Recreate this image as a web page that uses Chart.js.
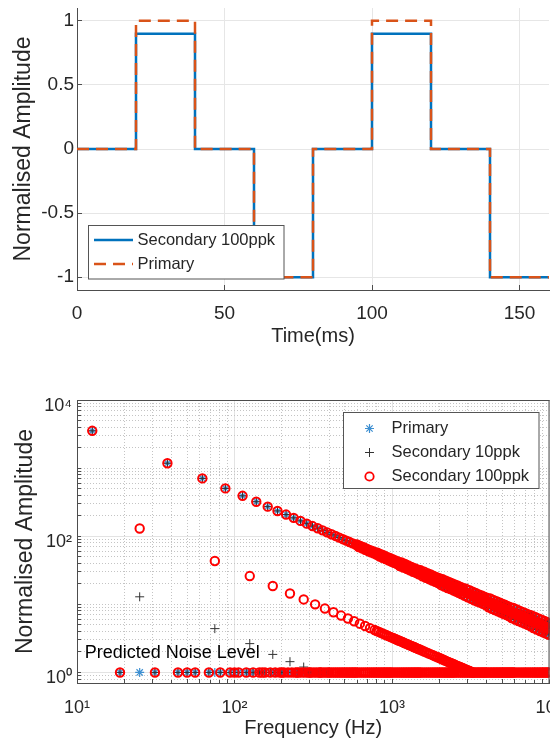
<!DOCTYPE html>
<html><head><meta charset="utf-8">
<script src="https://cdn.jsdelivr.net/npm/chart.js@4.4.1/dist/chart.umd.min.js"></script>
<style>
html,body{margin:0;padding:0;background:#fff;overflow:hidden;width:550px;height:754px;position:relative;}
#w1{position:absolute;left:0;top:0;width:600px;height:370px;}
#w2{position:absolute;left:0;top:380px;width:600px;height:374px;}
</style></head><body>
<div id="w1"><canvas id="c1"></canvas></div>
<div id="w2"><canvas id="c2"></canvas></div>
<script>
const FONT = "'Liberation Sans', Arial, Helvetica, sans-serif";
const INK = '#262626';
const AXIS = '#4d4d4d';

// ---------- Top panel: time signal ----------
const timeMs = [0, 20, 40, 60, 80, 100, 120, 140, 160];
const primaryWave = [0, 1, 0, -1, 0, 1, 0, -1, -1];
const secondaryWave = [0, 0.9, 0, -1, 0, 0.9, 0, -1, -1];
const timeTicks = [0, 50, 100, 150];
const ampTicks = [-1, -0.5, 0, 0.5, 1];

// ---------- Bottom panel: spectrum ----------
// main harmonic line (edges of the band at high frequency)
const peakHz = [12.5,37.5,62.5,87.5,112.5,137.5,162.5,187.5,212.5,237.5,
  262.5,287.5,312.5,337.5,362.5,387.5,412.5,437.5,462.5,487.5,
  512.5,537.5,562.5,587.5,
  600,615,630,645,660,675,690,705,720,735,750,765,780,795,
  810,830,850,870,890,910,930,950,970,990,1010,1030,1050,1070,1090,
  1120,1150,1180,1210,1240,1270,1300,1330,1360,1390,1420,1450,1480,
  1520,1560,1600,1640,1680,1720,1760,1800,1840,1880,1920,1960,2000,
  2050,2100,2150,2200,2250,2300,2350,2400,2450,2500,2550,2600,2650,2700,2750,2800,
  2875,2950,3025,3100,3175,3250,3325,3400,3475,3550,3625,3700,3775,3850,3925,4000,
  4100,4200,4300,4400,4500,4600,4700,4800,4900,5000,5100,5200,5300,5400,5500,5600,
  5750,5900,6050,6200,6350,6500,6650,6800,6950,7100,7250,7400,7550,
  7700,7900,8100,8300,8500,8700,8900,9100,9300,9500,9700,9900,10000];
const peakAmp = [3530,1180,706,504,392,321,272,235,208,186,
  168,153,141,131,122,114,107,101,95.4,90.5,
  86.1,82.1,78.4,75.1,
  75.7,69.5,72.1,66.3,68.9,63.4,65.8,60.7,63.1,58.2,60.6,56.0,58.3,53.8,
  57.2,50.5,54.5,48.2,52.1,46.1,49.8,44.1,47.8,42.3,45.9,40.7,44.1,39.2,42.5,
  36.6,41.1,34.8,39.1,33.1,37.1,31.5,35.5,30.1,33.9,28.9,32.5,27.7,
  31.6,25.8,30.1,24.5,28.7,23.4,27.4,22.3,26.2,21.4,25.1,20.5,24.1,
  19.1,23.3,18.2,22.3,17.4,21.3,16.7,20.4,16.0,19.6,15.4,18.9,14.8,18.1,14.2,17.5,
  13.4,16.9,12.7,16.1,12.1,15.3,11.5,14.7,11.0,14.0,10.6,13.5,10.2,12.9,9.78,12.5,
  9.04,12.2,8.62,11.6,8.24,11.1,7.89,10.7,7.57,10.2,7.27,9.85,7.0,9.48,6.74,9.14,
  6.29,8.83,5.98,8.40,5.70,8.01,5.44,7.66,5.21,7.33,4.99,7.03,4.79,
  6.88,4.47,6.54,4.26,6.23,4.06,5.95,3.88,5.69,3.71,5.46,3.57,5.29];
// centre of the dense harmonic band
const peakMidHz = [607.5,622.5,637.5,652.5,667.5,682.5,697.5,712.5,727.5,742.5,757.5,772.5,787.5,802.5,
  820,840,860,880,900,920,940,960,980,1000,1020,1040,1060,1080,1105,
  1135,1165,1195,1225,1255,1285,1315,1345,1375,1405,1435,1465,1500,
  1540,1580,1620,1660,1700,1740,1780,1820,1860,1900,1940,1980,2025,
  2075,2125,2175,2225,2275,2325,2375,2425,2475,2525,2575,2625,2675,2725,2775,2837.5,
  2912.5,2987.5,3062.5,3137.5,3212.5,3287.5,3362.5,3437.5,3512.5,3587.5,3662.5,3737.5,3812.5,3887.5,3962.5,4050,
  4150,4250,4350,4450,4550,4650,4750,4850,4950,5050,5150,5250,5350,5450,5550,5675,
  5825,5975,6125,6275,6425,6575,6725,6875,7025,7175,7325,7475,7625,
  7800,8000,8200,8400,8600,8800,9000,9200,9400,9600,9800,9950];
const peakMidAmp = [72.6,70.9,69.2,67.6,66.1,64.7,63.3,61.9,60.7,59.4,58.3,57.1,56.0,55.0,
  53.8,52.5,51.3,50.1,49.0,48.0,46.9,46.0,45.0,44.1,43.3,42.4,41.6,40.9,39.9,
  38.9,37.9,36.9,36.0,35.2,34.3,33.6,32.8,32.1,31.4,30.7,30.1,29.4,
  28.7,27.9,27.2,26.6,26.0,25.4,24.8,24.2,23.7,23.2,22.7,22.3,21.8,
  21.3,20.8,20.3,19.8,19.4,19.0,18.6,18.2,17.8,17.5,17.1,16.8,16.5,16.2,15.9,15.6,
  15.2,14.8,14.4,14.1,13.7,13.4,13.1,12.8,12.6,12.3,12.0,11.8,11.6,11.4,11.1,10.9,
  10.6,10.4,10.1,9.92,9.70,9.49,9.29,9.10,8.91,8.74,8.57,8.40,8.25,8.10,7.95,7.78,
  7.58,7.38,7.20,7.03,6.87,6.71,6.56,6.42,6.28,6.15,6.02,5.90,5.79,
  5.66,5.52,5.38,5.25,5.13,5.01,4.90,4.80,4.69,4.60,4.50,4.43];
const sideHz = [25,75,125,175,225,275,325,375,425,475,525,575,625,675,725,775,
  800,825,850,875,900,925,950,975,1000,1025,1050,1075,1100,1125,1150,1175,1200,
  1225,1250,1275,1300,1325,1350,1375,1400,1425,1450,1475,1500,
  1550,1600,1650,1700,1750,1800,1850,1900,1950,2000,2050,2100,2150,2200,2250,2300,
  2350,2400,2450,2500,2550,2600,2650,2700,2750,2800,2850,2900,2950,3000,3050,3100,
  3150,3200,3250];
const side100Amp = [130,43.3,26.0,18.6,14.4,11.8,10.0,8.67,7.65,6.84,6.19,5.65,5.20,4.81,4.48,4.19,
  4.06,3.94,3.82,3.71,3.61,3.51,3.42,3.33,3.25,3.17,3.10,3.02,2.95,2.89,2.83,2.77,2.71,
  2.65,2.60,2.55,2.50,2.45,2.41,2.36,2.32,2.28,2.24,2.20,2.17,
  2.10,2.03,1.97,1.91,1.86,1.81,1.76,1.71,1.67,1.63,1.59,1.55,1.51,1.48,1.44,1.41,
  1.38,1.35,1.33,1.30,1.27,1.25,1.23,1.20,1.18,1.16,1.14,1.12,1.10,1.08,1.07,1.05,
  1.03,1.02,1.00];
const side10Hz = [25,75,125,175,225,275];
const side10Amp = [12.9,4.4,2.65,1.84,1.44,1.2];
const NOISE_LEVEL = 1;
const floorHz = [18.75,31.25,43.75,50,56.25,68.75,81.25,93.75,100,106.25,118.75,131.25,
  143.75,150,156.25,168.75,181.25,193.75,200,206.25,218.75,231.25,243.75,250,256.25,
  268.75,281.25,293.75,300,306.25,318.75,331.25,343.75,350,356.25,368.75,381.25,393.75,400];
const floorDenseHz = [412.5,425,437.5,450,462.5,475,487.5,500,512.5,525,537.5,550,562.5,575,587.5,600,
  620,640,660,680,700,720,740,760,780,800,820,840,860,880,900,920,940,960,980,1000,
  1030,1060,1090,1120,1150,1180,1210,1240,1270,1300,1330,1360,1390,1420,1450,1480,1510,
  1550,1600,1650,1700,1750,1800,1850,1900,1950,2000,2050,2100,2150,2200,2250,2300,2350,2400,2450,2500,
  2575,2650,2725,2800,2875,2950,3025,3100,3175,3250,3325,3400,3475,3550,3625,3700,3775,3850,3925,4000,
  4100,4200,4300,4400,4500,4600,4700,4800,4900,5000,5100,5200,5300,5400,5500,5600,5700,5800,5900,6000,
  6200,6400,6600,6800,7000,7200,7400,7600,7800,8000,8200,8400,8600,8800,9000,9200,9400,9600,9800,10000];
const primaryNoiseHz = [25,75,125,175,225,275,325,375];
const sec10NoiseHz = [325,375];
const freqMajor = [10, 100, 1000, 10000];
const freqLabels = ['10\u00B9', '10\u00B2', '10\u00B3', '10\u2074'];
const ampMajor = [1, 100, 10000];
const ampLabels = ['10\u2070', '10\u00B2', '10\u2074'];
const ampBelowOne = [0.8, 0.9];
const minorMult = [1, 2, 3, 4, 5, 6, 7, 8, 9];
const noiseLabelAt = [11.2, 1.95];

Chart.defaults.font.family = FONT;
Chart.defaults.color = INK;

function xy(xs, ys) { return xs.map((x, i) => ({x: x, y: ys[i]})); }
function atNoise(xs) { return xs.map(x => ({x: x, y: NOISE_LEVEL})); }
function zeroPad(s) { s.paddingLeft = 0; s.paddingRight = 0; s.paddingTop = 0; s.paddingBottom = 0; }

// ---------- Legend plugin for top panel ----------
const legendTop = {
  id: 'legendTop',
  afterDraw(chart) {
    const ctx = chart.ctx;
    ctx.save();
    ctx.fillStyle = '#fff';
    ctx.fillRect(88.5, 225.5, 195.5, 53.5);
    ctx.strokeStyle = '#555';
    ctx.lineWidth = 1;
    ctx.strokeRect(88.5, 225.5, 195.5, 53.5);
    ctx.lineWidth = 2.5;
    ctx.strokeStyle = '#0072BD';
    ctx.beginPath(); ctx.moveTo(94, 240); ctx.lineTo(133, 240); ctx.stroke();
    ctx.strokeStyle = '#D95319';
    ctx.setLineDash([12, 7]);
    ctx.beginPath(); ctx.moveTo(94, 264); ctx.lineTo(133, 264); ctx.stroke();
    ctx.setLineDash([]);
    ctx.fillStyle = INK;
    ctx.font = '16.5px ' + FONT;
    ctx.textBaseline = 'middle';
    ctx.textAlign = 'left';
    ctx.fillText('Secondary 100ppk', 137.5, 240);
    ctx.fillText('Primary', 137.5, 264);
    ctx.restore();
  }
};

new Chart(document.getElementById('c1'), {
  type: 'line',
  data: { datasets: [
    { label: 'Primary', data: xy(timeMs, primaryWave), stepped: 'before',
      borderColor: '#D95319', borderWidth: 2.5, borderDash: [12, 7], borderJoinStyle: 'miter',
      pointRadius: 0, fill: false, order: 0 },
    { label: 'Secondary 100ppk', data: xy(timeMs, secondaryWave), stepped: 'before',
      borderColor: '#0072BD', borderWidth: 2.5, borderJoinStyle: 'miter',
      pointRadius: 0, fill: false, order: 1 }
  ]},
  options: {
    responsive: true, maintainAspectRatio: false, animation: false, devicePixelRatio: 1, events: [],
    layout: { padding: { left: 0, top: 8, right: 51, bottom: 18 } },
    plugins: { legend: { display: false }, tooltip: { enabled: false } },
    scales: {
      x: {
        type: 'linear', min: 0, max: 160,
        afterBuildTicks: s => { s.ticks = timeTicks.map(v => ({value: v})); },
        afterFit: s => { s.height = 62; zeroPad(s); },
        ticks: { font: { size: 19 }, color: INK, padding: 17.5, maxRotation: 0, autoSkip: false },
        grid: { color: '#e6e6e6', lineWidth: 1, drawTicks: true, tickLength: -5, tickColor: AXIS },
        border: { display: true, color: AXIS, width: 1 },
        title: { display: true, text: 'Time(ms)', font: { size: 20 }, color: INK, padding: { top: 0, bottom: 4 } }
      },
      y: {
        type: 'linear', min: -1.1, max: 1.1,
        afterBuildTicks: s => { s.ticks = ampTicks.map(v => ({value: v})); },
        afterFit: s => { s.width = 77; zeroPad(s); },
        ticks: { font: { size: 19 }, color: INK, padding: 8, autoSkip: false, callback: v => String(v) },
        grid: { color: '#e6e6e6', lineWidth: 1, drawTicks: true, tickLength: -5, tickColor: AXIS },
        border: { display: true, color: AXIS, width: 1 },
        title: { display: true, text: 'Normalised Amplitude', font: { size: 23 }, color: INK, padding: { top: 10, bottom: 0 } }
      }
    }
  },
  plugins: [legendTop]
});

// ---------- Bottom panel ----------
function mark(ctx, style, x, y) {
  ctx.beginPath();
  if (style === 'circle') { ctx.arc(x, y, 4.2, 0, Math.PI * 2); }
  else {
    const r = 4.5;
    ctx.moveTo(x - r, y); ctx.lineTo(x + r, y);
    ctx.moveTo(x, y - r); ctx.lineTo(x, y + r);
    if (style === 'star') {
      const d = r * 0.7071;
      ctx.moveTo(x - d, y - d); ctx.lineTo(x + d, y + d);
      ctx.moveTo(x - d, y + d); ctx.lineTo(x + d, y - d);
    }
  }
  ctx.stroke();
}

const bottomDeco = {
  id: 'bottomDeco',
  afterDatasetsDraw(chart) {
    const ctx = chart.ctx;
    ctx.save();
    ctx.fillStyle = '#000';
    ctx.font = '18px ' + FONT;
    ctx.textBaseline = 'middle';
    ctx.textAlign = 'left';
    ctx.fillText('Predicted Noise Level',
      chart.scales.x.getPixelForValue(noiseLabelAt[0]),
      chart.scales.y.getPixelForValue(noiseLabelAt[1]));
    ctx.restore();
  },
  afterDraw(chart) {
    const ctx = chart.ctx, a = chart.chartArea;
    ctx.save();
    ctx.strokeStyle = AXIS; ctx.lineWidth = 1;
    ctx.beginPath();
    ctx.moveTo(a.left, a.top + 0.5); ctx.lineTo(a.right, a.top + 0.5);
    ctx.moveTo(a.right - 0.5, a.top); ctx.lineTo(a.right - 0.5, a.bottom);
    ctx.stroke();
    // legend
    ctx.fillStyle = '#fff';
    ctx.fillRect(343.5, 32.5, 195.5, 76);
    ctx.strokeStyle = '#555';
    ctx.strokeRect(343.5, 32.5, 195.5, 76);
    const rows = [
      ['Primary', 'star', '#3d8fd1', 1.2, 48.5],
      ['Secondary 10ppk', 'cross', '#333', 1, 72.5],
      ['Secondary 100ppk', 'circle', '#ff0000', 1.8, 96.5]
    ];
    ctx.font = '16.5px ' + FONT;
    ctx.textBaseline = 'middle';
    ctx.textAlign = 'left';
    rows.forEach(r => {
      ctx.strokeStyle = r[2]; ctx.lineWidth = r[3];
      mark(ctx, r[1], 369.5, r[4]);
      ctx.fillStyle = INK;
      ctx.fillText(r[0], 391.5, r[4]);
    });
    ctx.restore();
  }
};

const freqTicks = [];
freqMajor.slice(0, 3).forEach(d => minorMult.forEach(m => freqTicks.push(d * m)));
freqTicks.push(10000);
const ampTickVals = ampBelowOne.slice();
[1, 10, 100, 1000].forEach(d => minorMult.forEach(m => ampTickVals.push(d * m)));
ampTickVals.push(10000);

const isMajorF = v => freqMajor.indexOf(v) >= 0;
const isMajorA = v => ampMajor.indexOf(v) >= 0;

const peakPts = () => xy(peakHz, peakAmp).concat(xy(peakMidHz, peakMidAmp));

new Chart(document.getElementById('c2'), {
  type: 'scatter',
  data: { datasets: [
    { label: 'Secondary 100ppk', order: 0,
      data: peakPts().concat(xy(sideHz, side100Amp), atNoise(floorHz), atNoise(floorDenseHz)),
      pointStyle: 'circle', pointRadius: 4.2, borderColor: '#ff0000', backgroundColor: 'rgba(0,0,0,0)', borderWidth: 2 },
    { label: 'Secondary 10ppk', order: 1,
      data: peakPts().concat(xy(side10Hz, side10Amp), atNoise(floorHz), atNoise(sec10NoiseHz)),
      pointStyle: 'cross', pointRadius: 4.5, borderColor: '#333', backgroundColor: 'rgba(0,0,0,0)', borderWidth: 1 },
    { label: 'Primary', order: 2,
      data: peakPts().concat(atNoise(floorHz), atNoise(primaryNoiseHz)),
      pointStyle: 'star', pointRadius: 4.5, borderColor: '#3d8fd1', backgroundColor: 'rgba(0,0,0,0)', borderWidth: 1.2 }
  ]},
  options: {
    responsive: true, maintainAspectRatio: false, animation: false, devicePixelRatio: 1, events: [],
    layout: { padding: { left: 0, top: 20, right: 50.5, bottom: 0 } },
    plugins: { legend: { display: false }, tooltip: { enabled: false } },
    scales: {
      x: {
        type: 'logarithmic', min: 10, max: 10000,
        afterBuildTicks: s => { s.ticks = freqTicks.map(v => ({value: v})); },
        afterFit: s => { s.height = 71; zeroPad(s); },
        ticks: { font: { size: 18 }, color: INK, padding: 18, maxRotation: 0, autoSkip: false,
          callback: v => { const i = freqMajor.indexOf(v); return i >= 0 ? freqLabels[i] : ''; } },
        grid: { color: c => isMajorF(c.tick && c.tick.value) ? '#e3e3e3' : '#c4c4c4', lineWidth: 1,
          drawTicks: true, tickLength: -4, tickColor: AXIS },
        border: { display: true, color: AXIS, width: 1,
          dash: c => (c.tick && !isMajorF(c.tick.value)) ? [1, 2] : [] },
        title: { display: true, text: 'Frequency (Hz)', font: { size: 20 }, color: INK, padding: { top: 0, bottom: 14 } }
      },
      y: {
        type: 'logarithmic', min: 0.7, max: 10000,
        afterBuildTicks: s => { s.ticks = ampTickVals.map(v => ({value: v})); },
        afterFit: s => { s.width = 77; zeroPad(s); },
        ticks: { font: { size: 18 }, color: INK, padding: 9, autoSkip: false, labelOffset: 6,
          callback: v => { const i = ampMajor.indexOf(v); return i >= 0 ? ampLabels[i] : ''; } },
        grid: { color: c => isMajorA(c.tick && c.tick.value) ? '#e3e3e3' : '#c4c4c4', lineWidth: 1,
          drawTicks: true, tickLength: -4, tickColor: AXIS },
        border: { display: true, color: AXIS, width: 1,
          dash: c => (c.tick && !isMajorA(c.tick.value)) ? [1, 2] : [] },
        title: { display: true, text: 'Normalised Amplitude', font: { size: 23 }, color: INK, padding: { top: 12, bottom: 0 } }
      }
    }
  },
  plugins: [bottomDeco]
});
</script>
</body></html>
